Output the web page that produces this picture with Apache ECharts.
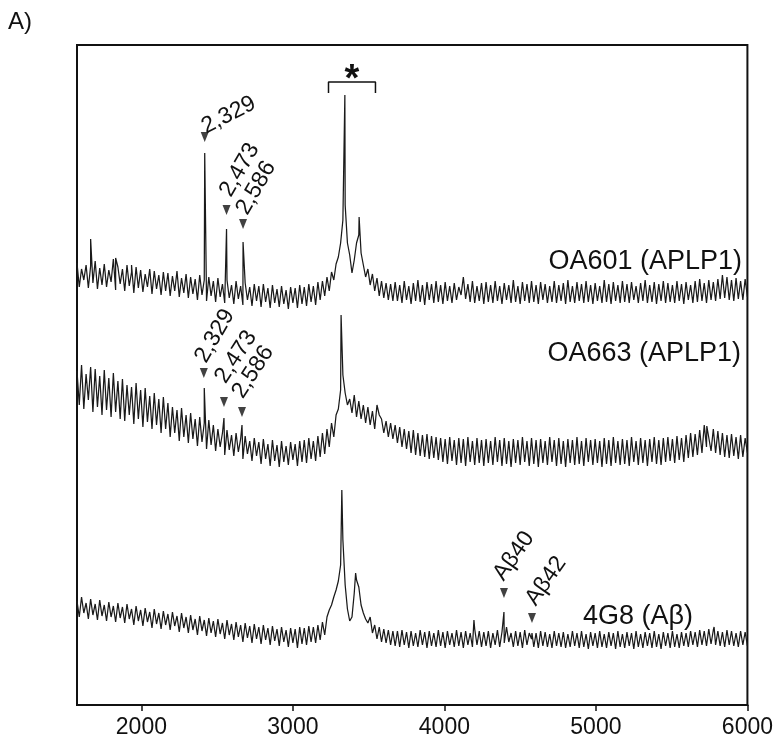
<!DOCTYPE html>
<html>
<head>
<meta charset="utf-8">
<script src="https://cdn.jsdelivr.net/npm/echarts@6/dist/echarts.min.js"></script>
<style>
html,body{margin:0;padding:0;background:#fff;}
#chart{width:776px;height:739px;}
</style>
</head>
<body>
<div id="chart"></div>
<script>
const mzStart = 1575;
const mzStep = 15;
const xTicks = [2000, 3000, 4000, 5000, 6000];

// OA601 (APLP1) intensity (arbitrary units, offset trace)
const oa601 = [
 442,418,436,425,440,417,439,422,444,416, 437,420,441,418,435,423,446,415,438,421,
 436,414,440,419,433,412,438,417,435,413, 431,418,436,411,434,416,430,410,433,414,
 432,409,429,414,434,408,427,412,431,407, 428,411,426,405,430,410,425,404,428,409,
 424,403,427,408,421,402,425,407,420,401, 424,406,419,400,422,405,418,399,421,404,
 419,398,421,403,417,397,420,402,416,398, 419,401,415,396,418,402,417,397,420,401,
 418,399,421,403,419,400,423,405,424,409, 428,414,433,425,441,448,462,485,500,462,
 450,432,445,462,470,452,440,428,436,420, 431,414,427,409,424,407,422,405,421,404,
 423,404,420,402,424,405,419,401,422,404, 425,403,420,400,423,405,421,402,424,403,
 420,401,423,404,419,402,422,405,418,410, 428,406,421,403,424,402,419,404,422,401,
 423,403,420,402,424,404,419,401,422,405, 420,402,425,403,419,401,423,404,421,402,
 424,403,420,401,423,405,421,402,419,403, 424,402,420,404,422,401,425,403,419,402,
 423,404,421,402,424,403,420,401,422,404, 419,402,425,403,421,401,423,404,420,402,
 424,403,421,402,423,405,419,402,422,404, 425,402,420,403,423,401,421,404,424,402,
 422,403,420,402,424,404,421,401,423,405, 420,402,424,403,426,404,422,402,425,405,
 423,404,426,406,430,407,428,405,425,404, 427,406,424,405,426,408
];
const oa601Peaks = [[1665,466],[1830,447],[1935,440],[2418,552],[2562,476],[2671,463],[3343,610],[3437,488]];

// OA663 (APLP1)
const oa663 = [
 334,300,340,296,331,305,338,293,336,298, 329,290,335,295,327,288,332,293,324,286,
 326,284,320,290,318,281,322,286,315,278, 317,283,309,276,312,280,306,272,308,276,
 302,268,298,272,295,264,297,268,290,262, 292,266,286,259,288,263,282,256,285,260,
 280,254,276,258,272,250,275,255,270,249, 272,253,266,246,269,251,264,244,267,249,
 263,241,266,246,261,239,265,244,260,238, 264,243,259,240,263,245,261,239,264,243,
 265,242,267,246,264,244,269,248,272,251, 276,258,282,268,290,296,315,330,312,300,
 306,292,310,288,304,286,300,282,298,280, 294,276,300,290,286,272,284,268,282,266,
 280,262,278,258,276,256,274,252,275,250, 272,249,270,248,271,246,269,247,268,245,
 267,243,266,241,268,244,265,240,267,242, 266,239,268,243,264,240,267,242,265,239,
 266,242,264,240,268,243,265,239,267,241, 264,238,266,242,265,240,268,243,264,239,
 267,241,265,238,266,242,264,240,268,243, 265,239,267,241,264,238,266,242,265,240,
 268,241,264,239,267,243,265,240,266,242, 264,238,267,241,265,239,268,242,264,240,
 266,241,265,239,268,243,264,240,267,242, 265,239,266,243,268,241,265,240,267,243,
 268,244,266,242,269,245,267,243,270,247, 272,248,271,250,275,252,280,258,278,254,
 276,252,274,250,272,248,270,247,271,249, 268,246,270,248,267,252
];
const oa663Peaks = [[2415,317],[2545,287],[2664,280],[3318,390],[5732,279]];

// 4G8 (Abeta)
const g48 = [
 104,88,108,92,102,86,106,90,101,85, 105,89,100,84,103,88,99,83,102,87,
 98,82,101,86,96,80,99,84,95,79, 97,83,93,77,96,81,92,76,94,80,
 91,75,93,79,89,73,92,77,88,72, 90,75,86,70,89,74,85,69,87,72,
 84,68,86,71,82,66,85,70,81,65, 83,68,80,63,82,67,79,62,81,66,
 78,61,80,65,77,60,79,64,76,59, 78,63,75,58,77,62,76,57,78,61,
 77,60,79,63,78,62,80,65,83,70, 88,95,100,108,115,124,140,165,120,96,
 84,88,112,125,118,100,92,86,82,88, 72,80,66,78,63,76,62,75,60,74,
 59,74,58,75,60,73,57,74,59,72, 58,75,60,73,57,74,59,72,58,75,
 59,73,57,74,60,72,58,75,59,73, 57,74,60,72,58,76,60,74,58,73,
 59,74,57,72,60,75,58,73,62,78, 63,72,58,74,59,73,57,75,60,72,
 66,58,72,57,74,59,73,58,71,57, 74,59,72,58,73,57,71,58,74,59,
 72,57,74,58,71,56,73,59,72,57, 74,58,71,57,73,59,72,56,74,58,
 71,57,73,59,72,56,74,58,71,57, 73,59,72,57,74,58,71,56,73,59,
 72,57,74,58,71,57,73,59,72,58, 74,60,73,58,75,60,74,59,76,61,
 75,60,74,59,73,58,75,60,74,59, 72,58,74,60,73,59
];
const g48Peaks = [[3323,215],[3414,132],[4195,85],[4393,93],[4578,72],[5780,78]];

// peak annotations: [label, m/z, arrow tip intensity]
const oa601Marks = [["2,329",2418,563],["2,473",2562,490],["2,586",2671,476]];
const oa663Marks = [["2,329",2412,327],["2,473",2545,298],["2,586",2664,288]];
const g48Marks = [["A\u03b240",4393,107],["A\u03b242",4578,82]];

const traceNames = ["OA601 (APLP1)", "OA663 (APLP1)", "4G8 (A\u03b2)"];
const starRange = [3235, 3545];
const starLevel = 623;

function buildTrace(vals, peaks) {
  const pts = vals.map((v, i) => [mzStart + i * mzStep, v]);
  peaks.forEach(p => pts.push([p[0], p[1]]));
  pts.sort((a, b) => a[0] - b[0]);
  return pts;
}

const FONT = 'Liberation Sans, Arial, Helvetica, sans-serif';
const chart = echarts.init(document.getElementById('chart'), null, {renderer: 'canvas'});

const lineStyle = {color: '#1a1a1a', width: 1.25};
function lineSeries(name, data) {
  return {name, type: 'line', data, showSymbol: false, symbol: 'none',
    lineStyle, silent: true, animation: false, z: 2};
}
const allMarks = oa601Marks.concat(oa663Marks, g48Marks);

chart.setOption({
  animation: false,
  backgroundColor: '#fff',
  grid: {left: 77, right: 28, top: 45, bottom: 34, show: true, borderColor: '#111', borderWidth: 2, backgroundColor: 'transparent'},
  xAxis: {
    type: 'value', min: 1575, max: 6000,
    axisLine: {show: true, lineStyle: {color: '#111', width: 2}},
    axisTick: {show: true, length: 6, inside: false, customValues: xTicks, lineStyle: {color: '#111', width: 1.5}},
    axisLabel: {show: true, customValues: xTicks, margin: 11, fontSize: 23, color: '#111', fontFamily: FONT,
      formatter: v => String(v)},
    splitLine: {show: false}
  },
  yAxis: {type: 'value', min: 0, max: 660, show: false, splitLine: {show: false}},
  series: [
    lineSeries(traceNames[0], buildTrace(oa601, oa601Peaks)),
    lineSeries(traceNames[1], buildTrace(oa663, oa663Peaks)),
    lineSeries(traceNames[2], buildTrace(g48, g48Peaks)),
    {type: 'scatter', data: allMarks.map(m => [m[1], m[2]]), symbol: 'triangle',
      symbolRotate: 180, symbolSize: [8, 10], symbolOffset: [0, -5],
      itemStyle: {color: '#111'}, silent: true, z: 3},
    {type: 'line', data: [[starRange[0], starLevel - 11], [starRange[0], starLevel], [starRange[1], starLevel], [starRange[1], starLevel - 11]],
      showSymbol: false, symbol: 'none', lineStyle: {color: '#111', width: 1.5}, silent: true, z: 3}
  ]
});

// label offsets (pixels) and rotation (degrees) for each annotation, same order as allMarks
const labelLayout = [[24,-27,27],[13,-45,60],[13,-41,60],[11,-42,60],[12,-50,57],[11,-45,57],[10,-42,55],[14,-42,55]];
const graphics = [];
allMarks.forEach((m, i) => {
  const p = chart.convertToPixel({gridIndex: 0}, [m[1], m[2]]);
  const L = labelLayout[i];
  graphics.push({type: 'text', x: p[0] + L[0], y: p[1] + L[1], rotation: L[2] * Math.PI / 180,
    style: {text: m[0], fontSize: 23, fontFamily: FONT, fill: '#111', align: 'center', verticalAlign: 'middle'}, z: 10});
});
const starP = chart.convertToPixel({gridIndex: 0}, [(starRange[0] + starRange[1]) / 2, starLevel]);
graphics.push({type: 'text', x: starP[0], y: starP[1] + 18,
  style: {text: '*', fontSize: 38, fontWeight: 'bold', fontFamily: FONT, fill: '#111', align: 'center', verticalAlign: 'bottom'}, z: 10});
graphics.push({type: 'text', right: 34, top: 248, style: {text: traceNames[0], fontSize: 27, fontFamily: FONT, fill: '#111'}, z: 10});
graphics.push({type: 'text', right: 35, top: 340, style: {text: traceNames[1], fontSize: 27, fontFamily: FONT, fill: '#111'}, z: 10});
graphics.push({type: 'text', right: 83, top: 603, style: {text: traceNames[2], fontSize: 27, fontFamily: FONT, fill: '#111'}, z: 10});
graphics.push({type: 'text', left: 8, top: 10, style: {text: 'A)', fontSize: 24, fontFamily: FONT, fill: '#111'}, z: 10});
chart.setOption({graphic: graphics});
</script>
</body>
</html>
